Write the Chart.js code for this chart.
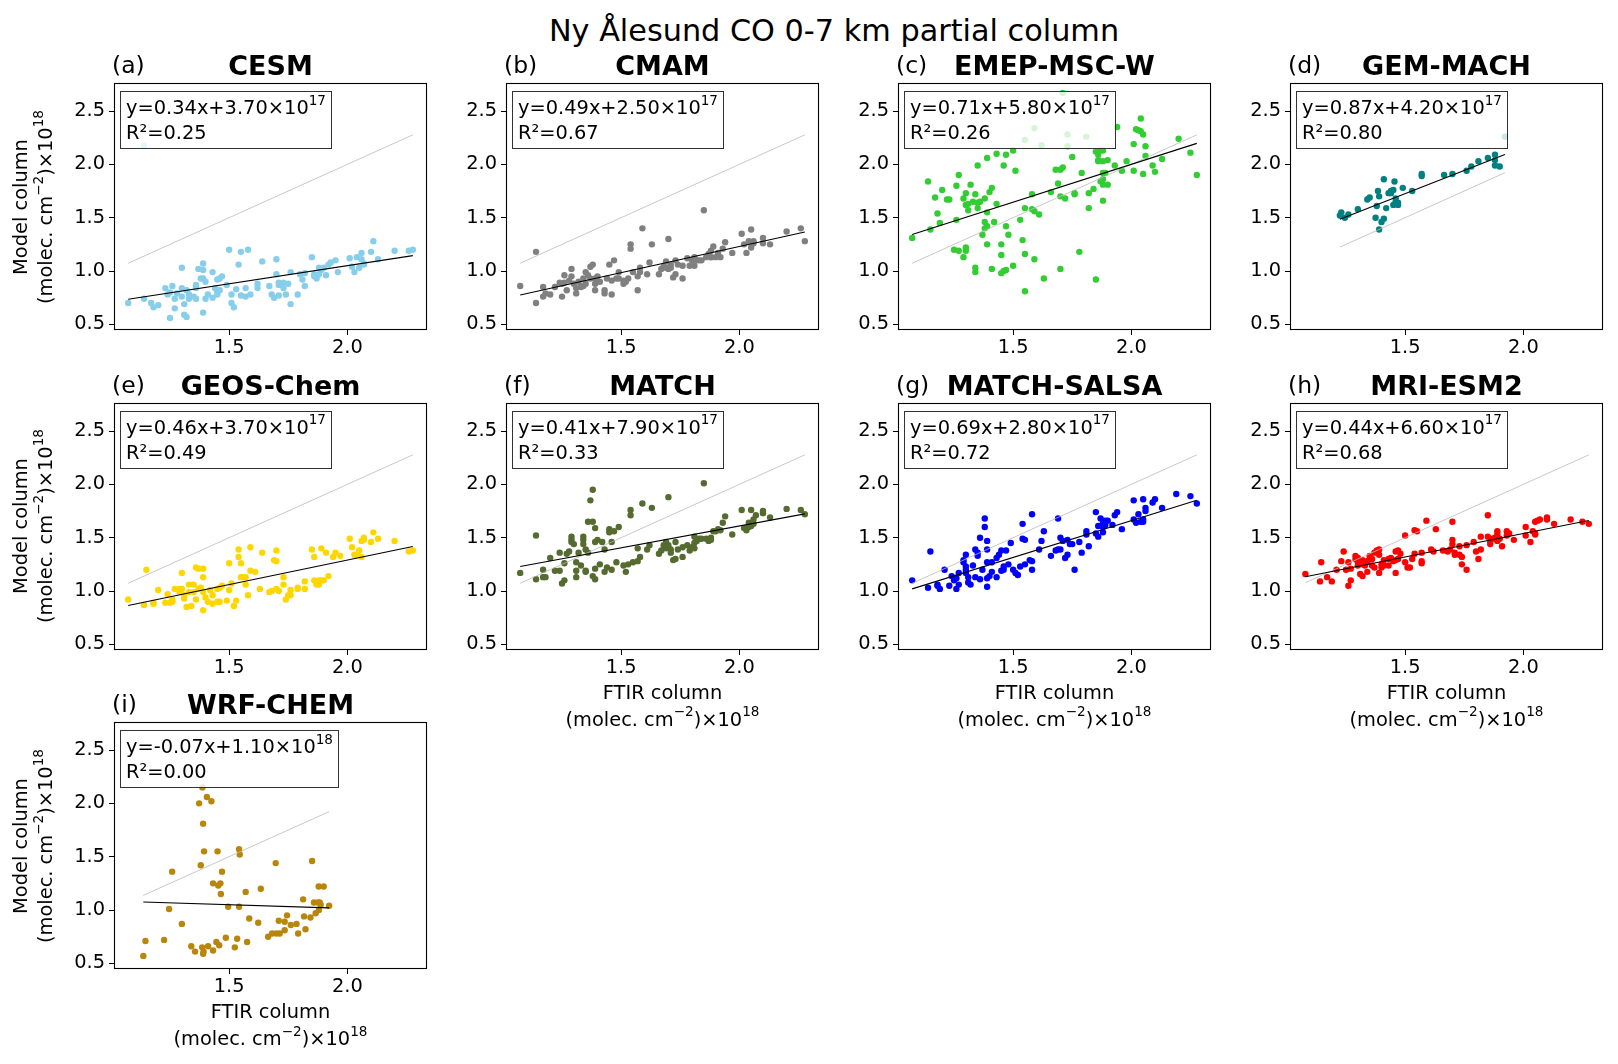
<!DOCTYPE html>
<html>
<head>
<meta charset="utf-8">
<script src="https://cdn.jsdelivr.net/npm/chart.js@4.4.1/dist/chart.umd.min.js"></script>
<style>
  body { margin: 0; background: #fff; font-family: 'DejaVu Sans', sans-serif; }
  #fig { position: relative; width: 1618px; height: 1064px; overflow: hidden; }
  .abs { position: absolute; white-space: nowrap; color: #000; }
  .eq { position: absolute; white-space: nowrap; font-size: 19.4px; line-height: 25px;
        padding: 3px 5px; background: rgba(255,255,255,0.8); border: 1px solid rgba(0,0,0,0.8); }
  sup { font-size: 0.7em; line-height: 0; position: relative; top: -0.15em; vertical-align: super; }
</style>
</head>
<body>
<div id="fig"></div>
<script>
// FTIR (x) vs model (y) partial columns, units 1e18 molec. cm-2
const cesm = [[1.073,0.70],[1.14,0.74],[1.17,0.70],[1.18,0.66],[1.20,0.68],[1.23,0.84],[1.24,0.78],[1.25,0.80],[1.26,0.86],[1.25,0.56],[1.27,0.74],[1.27,0.65],[1.28,0.79],[1.30,1.03],[1.30,0.84],[1.30,0.76],[1.31,0.69],[1.31,0.59],[1.32,0.57],[1.32,0.82],[1.33,0.78],[1.33,0.74],[1.35,0.76],[1.36,0.87],[1.36,0.74],[1.36,0.84],[1.37,1.02],[1.38,0.93],[1.39,1.01],[1.39,1.07],[1.39,0.61],[1.39,0.93],[1.40,0.74],[1.40,0.90],[1.41,0.78],[1.43,0.99],[1.43,0.75],[1.44,0.84],[1.45,0.92],[1.45,0.81],[1.45,0.78],[1.46,0.93],[1.46,0.82],[1.47,0.95],[1.49,0.87],[1.50,1.20],[1.51,0.70],[1.51,0.78],[1.52,0.66],[1.53,0.83],[1.54,1.06],[1.55,1.18],[1.55,0.77],[1.57,0.84],[1.57,0.76],[1.58,1.20],[1.59,0.78],[1.62,0.88],[1.62,0.84],[1.64,1.09],[1.67,0.86],[1.68,0.78],[1.69,0.75],[1.70,1.11],[1.70,0.97],[1.71,0.89],[1.71,0.77],[1.71,0.87],[1.73,0.89],[1.73,0.84],[1.74,0.78],[1.75,0.88],[1.76,0.69],[1.76,0.99],[1.79,0.78],[1.80,0.97],[1.81,0.92],[1.82,0.98],[1.82,0.86],[1.85,1.13],[1.86,0.97],[1.86,0.95],[1.87,0.93],[1.88,1.03],[1.88,0.97],[1.89,1.01],[1.90,1.03],[1.91,0.96],[1.92,1.06],[1.93,1.08],[1.95,1.10],[1.96,0.99],[2.01,1.12],[2.02,1.04],[2.03,0.99],[2.04,1.13],[2.05,1.03],[2.06,1.17],[2.06,1.11],[2.07,1.07],[2.07,1.06],[2.11,1.28],[2.10,1.18],[2.13,1.11],[2.20,1.19],[2.26,1.19],[2.277,1.20],[1.14,2.18]];
const cmam = [[1.073,0.86],[1.14,0.70],[1.14,1.18],[1.17,0.85],[1.17,0.76],[1.18,0.79],[1.20,0.78],[1.22,0.85],[1.24,0.89],[1.25,0.88],[1.25,0.76],[1.26,0.89],[1.26,0.96],[1.27,0.82],[1.28,0.91],[1.29,1.02],[1.29,0.95],[1.30,0.88],[1.31,0.84],[1.31,0.79],[1.32,0.90],[1.33,0.85],[1.34,0.93],[1.34,0.86],[1.35,0.88],[1.35,0.99],[1.36,0.96],[1.37,0.93],[1.37,1.04],[1.38,1.06],[1.39,0.88],[1.39,0.82],[1.39,0.93],[1.40,0.95],[1.41,0.90],[1.43,0.82],[1.43,0.79],[1.44,0.93],[1.45,1.06],[1.46,0.91],[1.46,0.78],[1.47,1.10],[1.48,0.93],[1.49,0.99],[1.49,0.93],[1.51,0.91],[1.51,0.88],[1.52,0.90],[1.53,0.93],[1.54,1.21],[1.54,1.25],[1.55,0.99],[1.57,0.82],[1.57,0.95],[1.58,0.99],[1.58,1.03],[1.59,1.40],[1.61,0.97],[1.62,1.08],[1.63,1.25],[1.66,0.97],[1.67,1.02],[1.68,1.04],[1.69,1.03],[1.69,1.09],[1.70,1.30],[1.70,1.02],[1.71,1.06],[1.71,1.03],[1.72,0.94],[1.73,1.10],[1.73,0.97],[1.74,1.06],[1.76,0.93],[1.76,1.05],[1.78,1.12],[1.79,1.05],[1.80,1.10],[1.81,1.13],[1.81,1.05],[1.82,1.10],[1.83,1.10],[1.84,1.10],[1.85,1.57],[1.86,1.13],[1.87,1.16],[1.88,1.13],[1.88,1.19],[1.88,1.13],[1.89,1.23],[1.90,1.13],[1.91,1.17],[1.92,1.13],[1.93,1.21],[1.94,1.27],[1.97,1.17],[2.01,1.35],[2.02,1.25],[2.03,1.17],[2.04,1.28],[2.05,1.22],[2.05,1.39],[2.06,1.26],[2.06,1.28],[2.10,1.31],[2.10,1.26],[2.13,1.25],[2.20,1.37],[2.26,1.40],[2.277,1.28]];
const emep = [[1.073,1.31],[1.14,1.84],[1.15,1.39],[1.17,1.69],[1.18,1.54],[1.19,1.45],[1.20,1.76],[1.22,1.67],[1.23,1.67],[1.25,1.20],[1.26,1.80],[1.26,1.48],[1.27,1.90],[1.27,1.19],[1.29,1.68],[1.29,1.13],[1.30,1.73],[1.30,1.62],[1.30,1.19],[1.30,1.22],[1.31,1.63],[1.31,1.57],[1.32,1.81],[1.33,1.65],[1.34,1.03],[1.34,0.99],[1.34,1.72],[1.35,1.99],[1.35,1.59],[1.35,1.64],[1.36,1.65],[1.37,1.34],[1.38,1.46],[1.38,1.40],[1.38,1.68],[1.39,1.25],[1.39,1.42],[1.39,1.55],[1.39,2.06],[1.40,1.74],[1.41,1.78],[1.41,1.02],[1.42,1.46],[1.43,2.10],[1.43,1.63],[1.45,1.25],[1.45,1.15],[1.45,0.98],[1.46,1.99],[1.46,1.00],[1.47,2.09],[1.47,1.42],[1.47,1.01],[1.48,1.34],[1.50,2.13],[1.50,1.05],[1.51,1.94],[1.53,1.48],[1.54,1.29],[1.55,1.16],[1.55,1.59],[1.55,0.81],[1.55,2.23],[1.58,1.58],[1.58,1.72],[1.59,1.56],[1.59,1.11],[1.59,2.34],[1.61,1.53],[1.62,2.18],[1.63,0.93],[1.66,1.74],[1.68,1.95],[1.69,1.82],[1.70,1.02],[1.70,1.95],[1.70,1.70],[1.71,2.67],[1.71,1.97],[1.72,1.68],[1.73,2.17],[1.73,2.28],[1.75,2.07],[1.76,1.73],[1.76,1.72],[1.78,1.18],[1.79,1.92],[1.81,2.26],[1.82,1.59],[1.82,1.73],[1.84,1.77],[1.85,0.92],[1.85,2.12],[1.86,2.04],[1.86,2.09],[1.86,2.03],[1.87,2.13],[1.87,1.84],[1.88,1.92],[1.88,1.86],[1.88,1.81],[1.88,1.66],[1.88,2.03],[1.88,2.13],[1.89,1.92],[1.90,1.81],[1.90,2.04],[1.93,1.99],[1.94,2.35],[1.96,1.94],[1.98,2.03],[2.01,1.94],[2.01,2.19],[2.02,2.33],[2.03,2.32],[2.04,2.43],[2.04,2.31],[2.05,2.28],[2.05,1.91],[2.06,2.17],[2.06,2.08],[2.09,1.99],[2.10,1.93],[2.13,2.05],[2.20,2.24],[2.25,2.11],[2.277,1.90]];
const gemMach = [[1.224,1.52],[1.23,1.55],[1.245,1.50],[1.26,1.53],[1.30,1.58],[1.34,1.67],[1.35,1.69],[1.375,1.50],[1.38,1.61],[1.385,1.75],[1.39,1.39],[1.39,1.70],[1.40,1.46],[1.41,1.49],[1.41,1.86],[1.42,1.59],[1.43,1.73],[1.44,1.75],[1.44,1.73],[1.45,1.76],[1.45,1.62],[1.455,1.84],[1.46,1.65],[1.46,1.68],[1.47,1.62],[1.47,1.64],[1.49,1.78],[1.53,1.75],[1.57,1.91],[1.57,1.89],[1.665,1.90],[1.70,1.91],[1.76,1.94],[1.78,1.98],[1.81,2.03],[1.85,2.06],[1.88,2.09],[1.88,2.04],[1.88,1.99],[1.90,1.98],[1.922,2.26]];
const geosChem = [[1.073,0.92],[1.14,0.87],[1.15,1.20],[1.18,0.88],[1.18,0.89],[1.20,1.01],[1.23,0.89],[1.24,0.97],[1.25,0.89],[1.26,0.92],[1.26,0.90],[1.27,1.02],[1.29,1.02],[1.29,0.99],[1.30,1.17],[1.30,1.02],[1.31,0.96],[1.31,0.93],[1.32,0.85],[1.33,0.99],[1.33,1.06],[1.34,0.86],[1.35,1.06],[1.35,0.99],[1.36,1.22],[1.36,0.92],[1.37,1.02],[1.37,1.21],[1.38,1.03],[1.39,1.21],[1.39,1.13],[1.39,0.82],[1.39,0.99],[1.40,0.94],[1.41,0.90],[1.42,1.01],[1.43,0.96],[1.43,0.88],[1.45,1.02],[1.45,0.90],[1.46,0.90],[1.46,1.03],[1.47,1.05],[1.49,0.91],[1.50,1.26],[1.50,1.01],[1.51,1.07],[1.52,0.86],[1.53,0.91],[1.54,1.39],[1.54,1.32],[1.55,1.26],[1.55,1.13],[1.56,1.13],[1.57,1.13],[1.57,1.06],[1.58,0.96],[1.59,1.41],[1.59,1.19],[1.61,1.18],[1.63,1.02],[1.64,1.36],[1.67,0.99],[1.68,1.00],[1.69,1.29],[1.70,1.38],[1.70,1.02],[1.70,1.28],[1.71,1.00],[1.73,1.13],[1.73,1.06],[1.74,0.92],[1.75,0.96],[1.76,0.96],[1.76,1.01],[1.79,1.02],[1.79,1.03],[1.82,1.09],[1.82,1.02],[1.85,1.39],[1.86,1.10],[1.86,1.32],[1.87,1.06],[1.87,1.07],[1.88,1.10],[1.88,1.06],[1.89,1.40],[1.89,1.10],[1.90,1.10],[1.91,1.36],[1.92,1.14],[1.94,1.32],[1.95,1.36],[1.97,1.33],[2.01,1.49],[2.02,1.41],[2.03,1.34],[2.04,1.34],[2.05,1.38],[2.06,1.32],[2.06,1.47],[2.07,1.50],[2.07,1.48],[2.10,1.46],[2.11,1.55],[2.13,1.49],[2.20,1.47],[2.26,1.37],[2.277,1.38]];
const match = [[1.073,1.17],[1.14,1.11],[1.14,1.52],[1.17,1.20],[1.17,1.13],[1.18,1.13],[1.20,1.31],[1.22,1.19],[1.24,1.36],[1.24,1.19],[1.25,1.07],[1.26,1.26],[1.26,1.10],[1.27,1.35],[1.28,1.37],[1.29,1.48],[1.29,1.46],[1.29,1.51],[1.30,1.44],[1.31,1.27],[1.31,1.19],[1.31,1.13],[1.32,1.36],[1.33,1.24],[1.34,1.51],[1.34,1.48],[1.34,1.44],[1.35,1.39],[1.35,1.18],[1.35,1.19],[1.36,1.65],[1.36,1.36],[1.37,1.85],[1.38,1.95],[1.38,1.14],[1.39,1.11],[1.38,1.65],[1.39,1.59],[1.39,1.21],[1.39,1.46],[1.40,1.48],[1.41,1.25],[1.42,1.46],[1.43,1.18],[1.43,1.39],[1.44,1.22],[1.45,1.58],[1.45,1.55],[1.46,1.46],[1.46,1.20],[1.47,1.56],[1.48,1.27],[1.49,1.60],[1.51,1.24],[1.52,1.18],[1.53,1.25],[1.54,1.76],[1.54,1.71],[1.55,1.27],[1.57,1.40],[1.57,1.28],[1.58,1.32],[1.59,1.82],[1.61,1.39],[1.62,1.43],[1.63,1.78],[1.66,1.35],[1.67,1.38],[1.68,1.43],[1.69,1.40],[1.69,1.46],[1.70,1.88],[1.70,1.43],[1.71,1.39],[1.71,1.36],[1.72,1.29],[1.73,1.46],[1.73,1.30],[1.74,1.39],[1.76,1.41],[1.76,1.32],[1.78,1.43],[1.79,1.38],[1.80,1.41],[1.81,1.45],[1.81,1.51],[1.81,1.40],[1.82,1.47],[1.83,1.49],[1.84,1.49],[1.85,2.01],[1.86,1.49],[1.87,1.47],[1.88,1.50],[1.88,1.48],[1.89,1.56],[1.90,1.56],[1.91,1.58],[1.92,1.57],[1.93,1.64],[1.94,1.70],[1.97,1.53],[2.01,1.76],[2.02,1.59],[2.03,1.57],[2.04,1.60],[2.04,1.64],[2.05,1.61],[2.05,1.76],[2.06,1.63],[2.06,1.67],[2.07,1.71],[2.10,1.73],[2.10,1.75],[2.13,1.69],[2.20,1.77],[2.26,1.76],[2.277,1.72]];
const matchSalsa = [[1.073,1.10],[1.14,1.03],[1.15,1.37],[1.18,1.06],[1.18,1.05],[1.19,1.02],[1.21,1.20],[1.23,1.05],[1.24,1.14],[1.25,1.10],[1.26,1.02],[1.26,1.12],[1.27,1.17],[1.27,1.06],[1.29,1.29],[1.29,1.27],[1.30,1.34],[1.30,1.23],[1.30,1.17],[1.30,1.20],[1.31,1.08],[1.31,1.13],[1.32,1.06],[1.33,1.24],[1.34,1.13],[1.34,1.39],[1.35,1.33],[1.35,1.36],[1.36,1.11],[1.36,1.50],[1.37,1.20],[1.38,1.60],[1.38,1.68],[1.39,1.47],[1.39,1.39],[1.39,1.12],[1.39,1.04],[1.39,1.27],[1.40,1.14],[1.41,1.27],[1.41,1.18],[1.43,1.31],[1.43,1.13],[1.44,1.34],[1.45,1.19],[1.45,1.38],[1.46,1.20],[1.46,1.23],[1.47,1.38],[1.48,1.25],[1.49,1.45],[1.50,1.20],[1.51,1.17],[1.52,1.15],[1.53,1.23],[1.54,1.63],[1.54,1.49],[1.55,1.48],[1.55,1.25],[1.57,1.29],[1.58,1.20],[1.58,1.28],[1.58,1.72],[1.61,1.39],[1.62,1.47],[1.63,1.56],[1.66,1.33],[1.68,1.38],[1.69,1.39],[1.69,1.68],[1.70,1.50],[1.70,1.39],[1.71,1.47],[1.72,1.31],[1.73,1.34],[1.73,1.48],[1.74,1.44],[1.75,1.44],[1.76,1.20],[1.78,1.46],[1.79,1.36],[1.82,1.42],[1.81,1.53],[1.81,1.56],[1.85,1.74],[1.85,1.54],[1.86,1.51],[1.86,1.61],[1.87,1.68],[1.88,1.55],[1.88,1.64],[1.88,1.60],[1.89,1.62],[1.89,1.66],[1.90,1.66],[1.92,1.62],[1.93,1.71],[1.94,1.74],[1.96,1.58],[2.01,1.85],[2.01,1.67],[2.02,1.64],[2.03,1.72],[2.04,1.65],[2.05,1.65],[2.05,1.86],[2.05,1.67],[2.06,1.75],[2.06,1.78],[2.09,1.83],[2.10,1.86],[2.13,1.78],[2.19,1.91],[2.25,1.89],[2.277,1.82]];
const mriEsm2 = [[1.078,1.16],[1.14,1.09],[1.145,1.27],[1.17,1.13],[1.19,1.09],[1.21,1.20],[1.23,1.28],[1.24,1.37],[1.25,1.20],[1.26,1.05],[1.26,1.27],[1.27,1.10],[1.27,1.21],[1.29,1.30],[1.29,1.33],[1.30,1.27],[1.30,1.24],[1.30,1.31],[1.31,1.28],[1.31,1.16],[1.32,1.14],[1.32,1.25],[1.32,1.29],[1.33,1.24],[1.34,1.18],[1.34,1.28],[1.35,1.33],[1.35,1.30],[1.36,1.24],[1.36,1.30],[1.37,1.22],[1.37,1.36],[1.38,1.38],[1.39,1.39],[1.39,1.17],[1.39,1.34],[1.40,1.25],[1.40,1.22],[1.41,1.24],[1.41,1.29],[1.43,1.30],[1.43,1.24],[1.44,1.31],[1.45,1.28],[1.46,1.37],[1.46,1.29],[1.46,1.17],[1.47,1.38],[1.47,1.30],[1.48,1.35],[1.50,1.52],[1.50,1.27],[1.51,1.22],[1.52,1.22],[1.53,1.30],[1.54,1.35],[1.54,1.57],[1.55,1.56],[1.57,1.28],[1.57,1.26],[1.57,1.36],[1.59,1.66],[1.61,1.39],[1.62,1.37],[1.63,1.58],[1.66,1.38],[1.68,1.37],[1.69,1.39],[1.70,1.65],[1.70,1.48],[1.70,1.44],[1.71,1.36],[1.71,1.34],[1.73,1.42],[1.73,1.34],[1.74,1.25],[1.74,1.32],[1.76,1.20],[1.76,1.43],[1.79,1.46],[1.80,1.37],[1.81,1.30],[1.82,1.39],[1.82,1.51],[1.85,1.51],[1.85,1.71],[1.86,1.44],[1.86,1.47],[1.87,1.49],[1.88,1.50],[1.89,1.56],[1.89,1.47],[1.89,1.53],[1.90,1.49],[1.91,1.42],[1.93,1.56],[1.93,1.52],[1.94,1.54],[1.96,1.48],[2.01,1.60],[2.01,1.52],[2.03,1.46],[2.04,1.56],[2.05,1.54],[2.05,1.53],[2.05,1.65],[2.06,1.66],[2.07,1.67],[2.10,1.69],[2.10,1.67],[2.13,1.63],[2.20,1.67],[2.25,1.65],[2.277,1.63]];
const wrfChem = [[1.137,0.57],[1.146,0.71],[1.225,0.72],[1.246,1.01],[1.259,1.36],[1.30,0.87],[1.34,0.66],[1.356,0.61],[1.373,2.00],[1.38,1.42],[1.386,0.65],[1.387,2.15],[1.39,1.81],[1.39,0.59],[1.392,0.61],[1.394,1.55],[1.406,2.06],[1.411,0.66],[1.425,2.02],[1.432,1.25],[1.432,0.62],[1.446,0.70],[1.451,1.55],[1.454,1.23],[1.458,0.67],[1.463,1.25],[1.465,1.15],[1.47,1.36],[1.486,0.74],[1.496,1.03],[1.524,0.65],[1.534,0.73],[1.542,1.57],[1.542,1.03],[1.545,1.52],[1.57,1.17],[1.576,0.70],[1.585,0.92],[1.623,0.88],[1.634,1.20],[1.665,0.75],[1.682,0.78],[1.697,1.44],[1.70,0.78],[1.71,0.90],[1.714,0.78],[1.735,0.81],[1.735,0.89],[1.745,0.95],[1.761,0.86],[1.785,0.87],[1.792,0.78],[1.813,1.10],[1.817,0.94],[1.823,0.82],[1.844,0.93],[1.851,1.46],[1.859,1.07],[1.866,0.97],[1.876,1.07],[1.879,1.22],[1.88,1.00],[1.883,1.07],[1.887,1.05],[1.90,1.22],[1.923,1.04]];

const models = ['CESM', 'CMAM', 'EMEP-MSC-W', 'GEM-MACH', 'GEOS-Chem', 'MATCH', 'MATCH-SALSA', 'MRI-ESM2', 'WRF-CHEM'];
const tags = ['(a)', '(b)', '(c)', '(d)', '(e)', '(f)', '(g)', '(h)', '(i)'];
const series = [cesm, cmam, emep, gemMach, geosChem, match, matchSalsa, mriEsm2, wrfChem];
const colors = ['#87ceeb', '#808080', '#32cd32', '#008080', '#ffd700', '#556b2f', '#0000ff', '#ff0000', '#b8860b'];
// fit lines (slope, intercept in 1e18 units)
const slopes = [0.34, 0.49, 0.71, 0.87, 0.46, 0.41, 0.69, 0.44, -0.07];
const intercepts = [0.37, 0.25, 0.58, 0.42, 0.37, 0.79, 0.28, 0.66, 1.155];
// equation text as printed
const slopeText = ['0.34', '0.49', '0.71', '0.87', '0.46', '0.41', '0.69', '0.44', '-0.07'];
const interceptText = ['3.70', '2.50', '5.80', '4.20', '3.70', '7.90', '2.80', '6.60', '1.10'];
const interceptExp = ['17', '17', '17', '17', '17', '17', '17', '17', '18'];
const r2Text = ['0.25', '0.67', '0.26', '0.80', '0.49', '0.33', '0.72', '0.68', '0.00'];
const xTicks = [1.5, 2.0];
const yTicks = [0.5, 1.0, 1.5, 2.0, 2.5];
const xLim = [1.013, 2.337];
const yLim = [0.447, 2.763];

// layout
const colLeft = [114, 506, 898, 1290];
const rowTop = [83, 402.5, 722];
const axW = 313, axH = 247;
const padL = 60, padT = 20, padR = 12, padB = 40;
const FONT = "'DejaVu Sans', sans-serif";

const fig = document.getElementById('fig');

function addText(html, css) {
  const d = document.createElement('div');
  d.className = 'abs';
  d.innerHTML = html;
  Object.assign(d.style, css);
  fig.appendChild(d);
  return d;
}

addText('Ny Ålesund CO 0-7 km partial column',
  { left: '834px', top: '30px', fontSize: '30.3px', transform: 'translate(-50%,-50%)' });

const frame = {
  id: 'frame',
  afterDatasetsDraw(chart) {
    const a = chart.chartArea, ctx = chart.ctx;
    ctx.save();
    ctx.strokeStyle = '#000';
    ctx.lineWidth = 1.1;
    ctx.strokeRect(Math.round(a.left) + 0.5, Math.round(a.top) + 0.5,
      Math.round(a.right - a.left) - 1, Math.round(a.bottom - a.top) - 1);
    ctx.restore();
  }
};

series.forEach((pts, i) => {
  const col = i % 4, row = Math.floor(i / 4);
  const L = colLeft[col], T = rowTop[row];

  const box = document.createElement('div');
  box.style.cssText = `position:absolute;left:${L - padL}px;top:${T - padT}px;width:${padL + axW + padR}px;height:${padT + axH + padB}px;`;
  const cv = document.createElement('canvas');
  box.appendChild(cv);
  fig.appendChild(box);

  const xs = pts.map(p => p[0]);
  const x0 = Math.min(...xs), x1 = Math.max(...xs);

  new Chart(cv, {
    type: 'scatter',
    data: {
      datasets: [
        { data: [{ x: x0, y: slopes[i] * x0 + intercepts[i] }, { x: x1, y: slopes[i] * x1 + intercepts[i] }],
          showLine: true, borderColor: '#000', borderWidth: 1.1, pointRadius: 0 },
        { data: [{ x: x0, y: x0 }, { x: x1, y: x1 }],
          showLine: true, borderColor: '#bababa', borderWidth: 0.8, pointRadius: 0 },
        { data: pts.map(p => ({ x: p[0], y: p[1] })),
          backgroundColor: colors[i], pointRadius: 3.2, pointBorderWidth: 0, borderWidth: 0 }
      ]
    },
    options: {
      responsive: true,
      maintainAspectRatio: false,
      animation: false,
      layout: { padding: { left: 0, top: padT, right: padR, bottom: 0 } },
      plugins: { legend: { display: false }, tooltip: { enabled: false } },
      scales: {
        x: {
          type: 'linear', min: xLim[0], max: xLim[1],
          afterFit: s => { s.height = padB; },
          afterBuildTicks: s => { s.ticks = xTicks.map(v => ({ value: v })); },
          grid: { drawOnChartArea: false, drawTicks: true, tickLength: 5, color: '#000', lineWidth: 1 },
          border: { display: false },
          ticks: { color: '#000', padding: 1, maxRotation: 0, font: { family: FONT, size: 19.4 },
                   callback: v => v.toFixed(1) }
        },
        y: {
          type: 'linear', min: yLim[0], max: yLim[1],
          afterFit: s => { s.width = padL; },
          afterBuildTicks: s => { s.ticks = yTicks.map(v => ({ value: v })); },
          grid: { drawOnChartArea: false, drawTicks: true, tickLength: 5, color: '#000', lineWidth: 1 },
          border: { display: false },
          ticks: { color: '#000', padding: 4, font: { family: FONT, size: 19.4 },
                   callback: v => v.toFixed(1) }
        }
      }
    },
    plugins: [frame]
  });

  // panel titles
  addText(tags[i], { left: (L - 2) + 'px', top: (T - 18) + 'px', fontSize: '23.5px', transform: 'translateY(-50%)' });
  addText(models[i], { left: (L + axW / 2) + 'px', top: (T - 18) + 'px', fontSize: '27px', fontWeight: 'bold',
    transform: 'translate(-50%,-50%)' });

  // equation box
  const eq = document.createElement('div');
  eq.className = 'eq';
  eq.style.left = (L + 6) + 'px';
  eq.style.top = (T + 8) + 'px';
  eq.innerHTML = `y=${slopeText[i]}x+${interceptText[i]}×10<sup>${interceptExp[i]}</sup><br>R²=${r2Text[i]}`;
  fig.appendChild(eq);

  // y label on first column
  if (col === 0) {
    addText('Model column<br>(molec. cm<sup>−2</sup>)×10<sup>18</sup>',
      { left: '33px', top: (T + axH / 2) + 'px', fontSize: '19.4px', lineHeight: '25px', textAlign: 'center',
        transform: 'translate(-50%,-50%) rotate(-90deg)' });
  }
  // x label on bottom panel of each column
  if (i >= 5) {
    addText('FTIR column<br>(molec. cm<sup>−2</sup>)×10<sup>18</sup>',
      { left: (L + axW / 2) + 'px', top: (T + axH + 56) + 'px', fontSize: '19.4px', lineHeight: '27px', textAlign: 'center',
        transform: 'translate(-50%,-50%)' });
  }
});
</script>
</body>
</html>
